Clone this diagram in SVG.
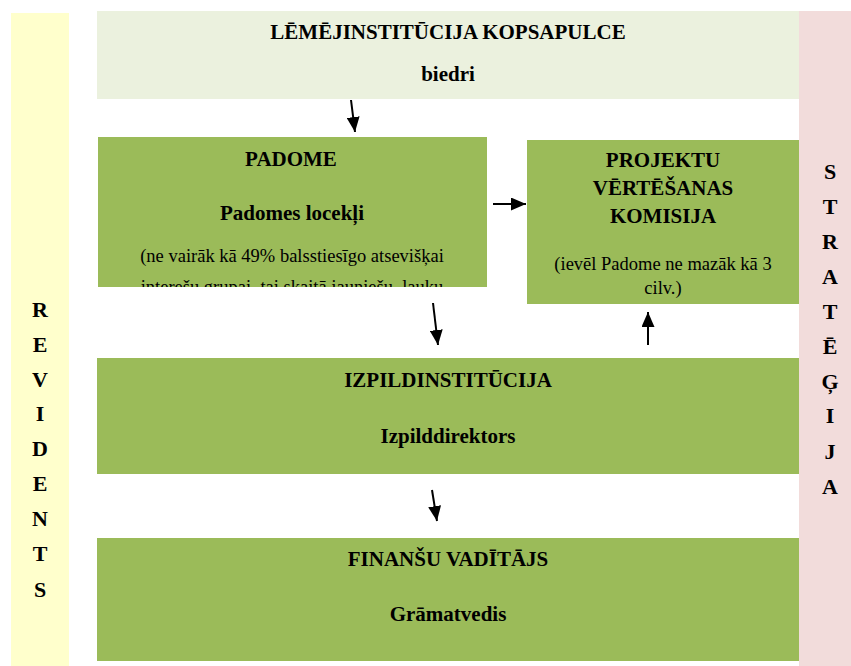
<svg xmlns="http://www.w3.org/2000/svg" width="851" height="666" viewBox="0 0 851 666">
<style>
.b{font-family:"Liberation Serif","Times New Roman",serif;font-weight:bold;font-size:21px;fill:#000;text-anchor:middle}
.r{font-family:"Liberation Serif","Times New Roman",serif;font-size:18.5px;fill:#000;text-anchor:middle}
.v{font-family:"Liberation Serif","Times New Roman",serif;font-weight:bold;font-size:22px;fill:#000;text-anchor:middle}
.g{fill:#9BBB59}
.c{stroke:#000;stroke-width:2;fill:none;marker-end:url(#ah)}
</style>
<defs>
<marker id="ah" viewBox="0 0 15 13" refX="15" refY="6.5" markerWidth="15" markerHeight="13" markerUnits="userSpaceOnUse" orient="auto"><path d="M0,0 L15,6.5 L0,13 z" fill="#000"/></marker>
<clipPath id="pc"><rect x="98" y="137" width="389" height="150"/></clipPath>
</defs>
<rect width="851" height="666" fill="#fff"/>
<g id="revidents">
<rect x="11" y="13" width="58" height="653" fill="#FFFFCC"/>
<text class="v" x="40" y="317">R</text>
<text class="v" x="40" y="352">E</text>
<text class="v" x="40" y="387">V</text>
<text class="v" x="40" y="421">I</text>
<text class="v" x="40" y="456">D</text>
<text class="v" x="40" y="491">E</text>
<text class="v" x="40" y="526">N</text>
<text class="v" x="40" y="561">T</text>
<text class="v" x="40" y="597">S</text>
</g>
<g id="strategija">
<rect x="799" y="11" width="52" height="655" fill="#F2DCDB"/>
<text class="v" x="830" y="179">S</text>
<text class="v" x="830" y="214">T</text>
<text class="v" x="830" y="249">R</text>
<text class="v" x="830" y="284">A</text>
<text class="v" x="830" y="319">T</text>
<text class="v" x="830" y="354">Ē</text>
<text class="v" x="830" y="389">Ģ</text>
<text class="v" x="830" y="423">I</text>
<text class="v" x="830" y="459">J</text>
<text class="v" x="830" y="494">A</text>
</g>
<g id="kopsapulce">
<rect x="97" y="11" width="702" height="88" fill="#EBF1DE"/>
<text class="b" x="448" y="39">LĒMĒJINSTITŪCIJA KOPSAPULCE</text>
<text class="b" x="448" y="81">biedri</text>
</g>
<g id="padome">
<rect class="g" x="98" y="137" width="389" height="150"/>
<text class="b" x="291" y="166">PADOME</text>
<text class="b" x="292" y="220">Padomes locekļi</text>
<g clip-path="url(#pc)">
<text class="r" x="292" y="262">(ne vairāk kā 49% balsstiesīgo atsevišķai</text>
<text class="r" x="292" y="293">interešu grupai, tai skaitā jauniešu, lauku</text>
</g>
</g>
<g id="komisija">
<rect class="g" x="527" y="140" width="272" height="164"/>
<text class="b" x="663" y="167">PROJEKTU</text>
<text class="b" x="663" y="195">VĒRTĒŠANAS</text>
<text class="b" x="663" y="223">KOMISIJA</text>
<text class="r" x="663" y="270">(ievēl Padome ne mazāk kā 3</text>
<text class="r" x="663" y="294">cilv.)</text>
</g>
<g id="izpild">
<rect class="g" x="97" y="358" width="702" height="116"/>
<text class="b" x="448" y="387">IZPILDINSTITŪCIJA</text>
<text class="b" x="448" y="443">Izpilddirektors</text>
</g>
<g id="finansu">
<rect class="g" x="97" y="538" width="702" height="123"/>
<text class="b" x="448" y="566">FINANŠU VADĪTĀJS</text>
<text class="b" x="448" y="621">Grāmatvedis</text>
</g>
<g id="connectors">
<path class="c" d="M351,100 L355,132"/>
<path class="c" d="M493,204 L526,204"/>
<path class="c" d="M433,303 L438,345"/>
<path class="c" d="M648,345 L648,312"/>
<path class="c" d="M432,490 L437,521"/>
</g>
</svg>
